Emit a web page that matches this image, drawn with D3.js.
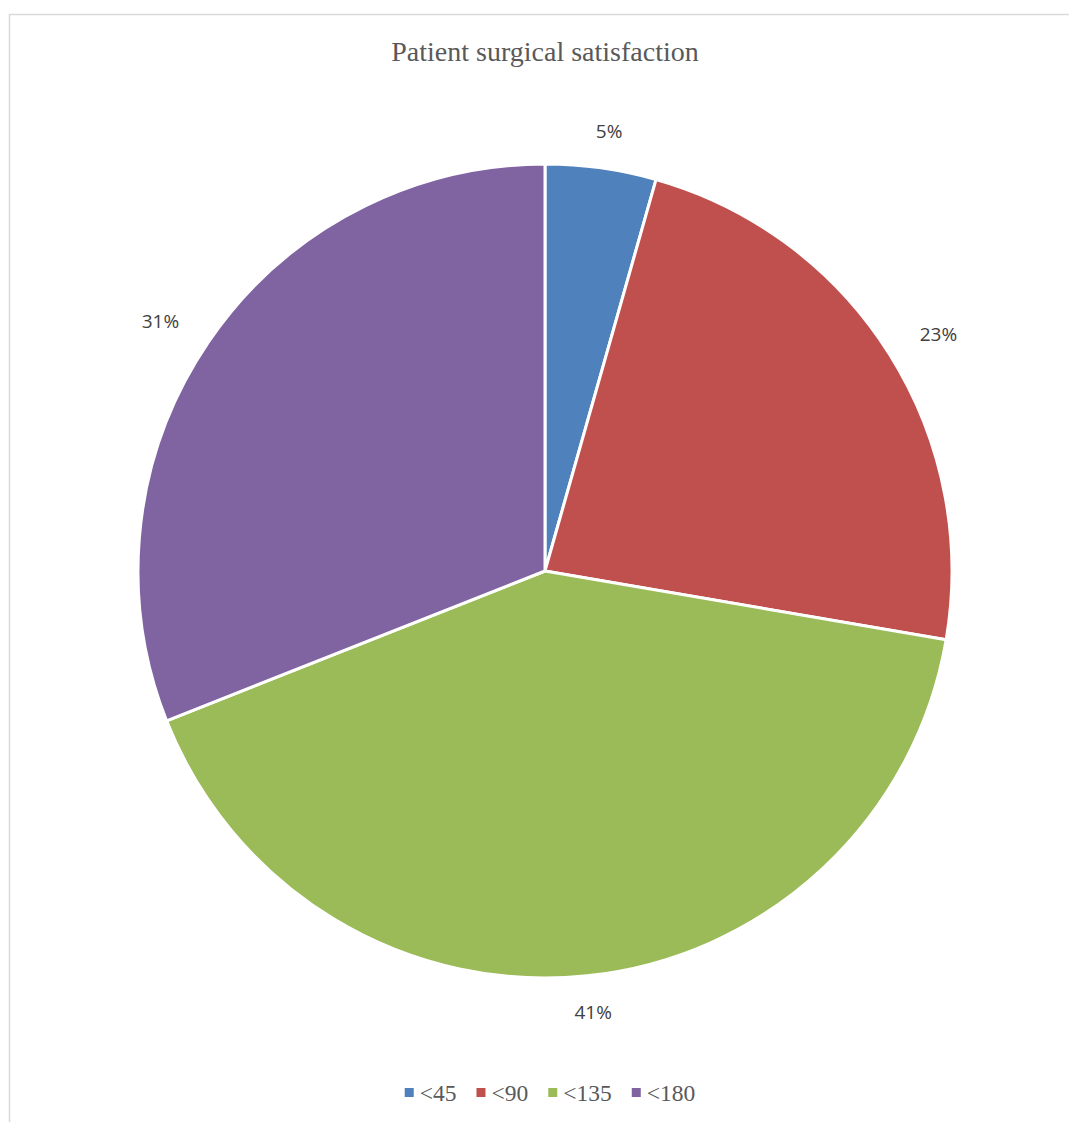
<!DOCTYPE html>
<html><head><meta charset="utf-8">
<script src="https://cdn.jsdelivr.net/npm/d3@7"></script>
<style>html,body{margin:0;padding:0;background:#fff;}</style>
</head><body>
<svg id="chart" width="1069" height="1122"></svg>
<script>
const categories = ["<45", "<90", "<135", "<180"];
const values = [4.4, 23.3, 41.3, 31.0];
const labels = ["5%", "23%", "41%", "31%"];
const colors = ["#4f81bd", "#c0504d", "#9bbb59", "#8064a2"];
const title = "Patient surgical satisfaction";

const svg = d3.select("#chart");
svg.append("rect").attr("x", 9.5).attr("y", 14.5).attr("width", 1200).attr("height", 1200)
  .attr("fill", "#fff").attr("stroke", "#d9d9d9").attr("stroke-width", 1.5);

svg.append("text").attr("x", 545).attr("y", 61).attr("text-anchor", "middle")
  .attr("font-family", "'Liberation Serif', 'Times New Roman', serif").attr("font-size", 28)
  .attr("fill", "#595959").text(title);

const cx = 545, cy = 571, r = 407;
const data = categories.map((c, i) => ({cat: c, value: values[i], label: labels[i], color: colors[i]}));
const pie = d3.pie().value(d => d.value).sort(null);
const arcs = pie(data);
const arc = d3.arc().innerRadius(0).outerRadius(r);
const g = svg.append("g").attr("transform", `translate(${cx},${cy})`);
g.selectAll("path").data(arcs).join("path")
  .attr("d", arc).attr("fill", d => d.data.color)
  .attr("stroke", "#fff").attr("stroke-width", 3).attr("stroke-linejoin", "round");

const rx = 465, ry = 444;
g.selectAll("text.lbl").data(arcs).join("text").attr("class", "lbl")
  .attr("transform", d => {
    const a = (d.startAngle + d.endAngle) / 2;
    return `translate(${rx * Math.sin(a)},${-ry * Math.cos(a)})`;
  })
  .attr("text-anchor", "middle").attr("dy", "0.35em")
  .attr("font-family", "'Open Sans', 'Liberation Sans', sans-serif").attr("font-size", 19)
  .attr("fill", "#404040").text(d => d.data.label);

// legend
const legend = svg.append("g");
const fontLeg = "'Liberation Serif', 'Times New Roman', serif";
const items = [];
data.forEach(d => {
  const it = legend.append("g");
  it.append("rect").attr("x", 0).attr("y", -5).attr("width", 9).attr("height", 9).attr("fill", d.color);
  const t = it.append("text").attr("x", 15).attr("y", 0).attr("dy", "0.35em")
    .attr("font-family", fontLeg).attr("font-size", 23.5).attr("fill", "#595959").text(d.cat);
  const w = 15 + t.node().getComputedTextLength();
  items.push({it, w});
});
const gap = 20;
const total = d3.sum(items, d => d.w) + gap * (items.length - 1);
let x = 550 - total / 2;
items.forEach(o => { o.it.attr("transform", `translate(${x},1093)`); x += o.w + gap; });
</script>
</body></html>
